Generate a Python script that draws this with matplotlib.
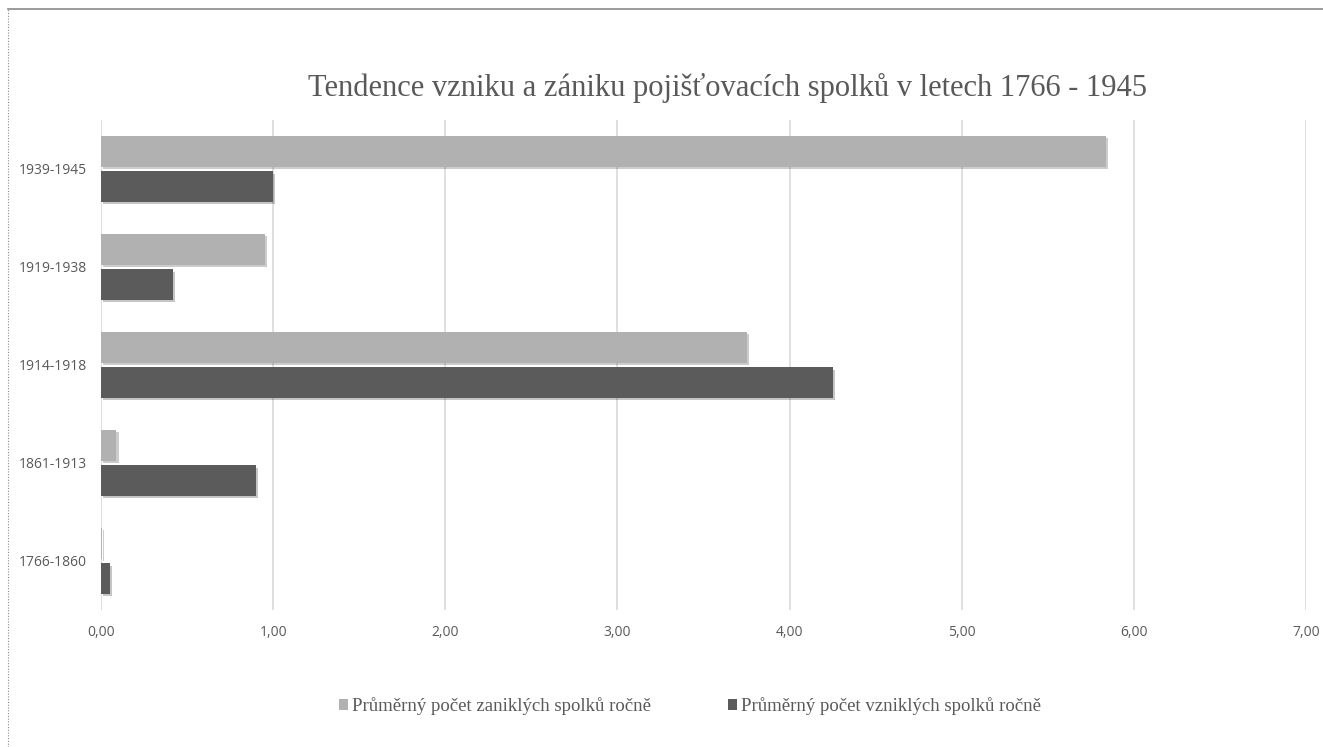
import matplotlib.pyplot as plt
import matplotlib.ticker as ticker
import matplotlib.patheffects as pe
from matplotlib.lines import Line2D
import numpy as np

# Data
periods = ["1766-1860", "1861-1913", "1914-1918", "1919-1938", "1939-1945"]
zanikle = [0.005, 0.09, 3.75, 0.95, 5.84]   # average dissolved per year
vznikle = [0.05, 0.90, 4.25, 0.42, 1.00]    # average founded per year

title = "Tendence vzniku a zániku pojišťovacích spolků v letech 1766 - 1945"
label_zanikle = "Průměrný počet zaniklých spolků ročně"
label_vznikle = "Průměrný počet vzniklých spolků ročně"

light = "#b1b1b1"
dark = "#5b5b5b"
text_gray = "#595959"

fig = plt.figure(figsize=(13.23, 7.47), dpi=100)
ax = fig.add_axes([101 / 1323, 137 / 747, 1205 / 1323, 490 / 747])

y = np.arange(len(periods))
h = 0.31
shadow = [pe.SimplePatchShadow(offset=(1.5, -1.5), alpha=0.25), pe.Normal()]
b1 = ax.barh(y + 0.18, zanikle, height=h, color=light, label=label_zanikle, zorder=3)
b2 = ax.barh(y - 0.18, vznikle, height=h, color=dark, label=label_vznikle, zorder=3)
for bar in list(b1) + list(b2):
    bar.set_path_effects(shadow)

ax.set_xlim(0, 7)
ax.set_ylim(-0.5, len(periods) - 0.5)
ax.set_yticks(y)
ax.set_yticklabels(periods)
ax.xaxis.set_major_locator(ticker.MultipleLocator(1))
ax.xaxis.set_major_formatter(ticker.FuncFormatter(lambda v, p: f"{v:.2f}".replace(".", ",")))

ax.grid(axis="x", color="#d9d9d9", linewidth=1.2, zorder=0)
for s in ax.spines.values():
    s.set_visible(False)
ax.tick_params(axis="both", length=0, labelsize=10, labelcolor=text_gray)
ax.tick_params(axis="x", pad=11)
ax.tick_params(axis="y", pad=10)
for lab in ax.get_xticklabels() + ax.get_yticklabels():
    lab.set_fontfamily("Open Sans")

fig.text(727 / 1323, 1 - 88 / 747, title, ha="center", va="center",
         fontsize=22, color=text_gray, family="Liberation Serif")

leg = fig.legend(handles=[b1, b2], loc="center", bbox_to_anchor=(690 / 1323, 1 - 706 / 747),
                 ncol=2, frameon=False, prop={"family": "Liberation Serif", "size": 13.5},
                 labelcolor=text_gray, handlelength=0.5, handleheight=0.5,
                 handletextpad=0.2, columnspacing=4.1)
for hnd in leg.legend_handles:
    hnd.set_path_effects([])

# frame lines like the original slide border
fig.add_artist(Line2D([8 / 1323, 1], [1 - 9 / 747, 1 - 9 / 747], color="#8a8a8a", lw=1.2))
fig.add_artist(Line2D([8 / 1323, 8 / 1323], [0, 1 - 9 / 747], color="#8a8a8a", lw=0.8,
                      linestyle=(0, (1, 1.5))))

fig.savefig("out.png", dpi=100)
